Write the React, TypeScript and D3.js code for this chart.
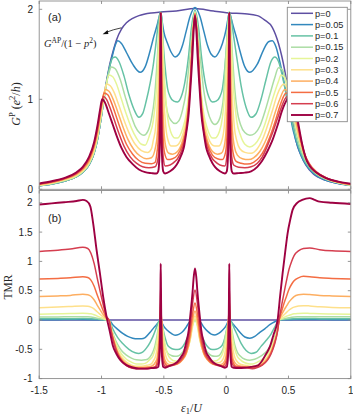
import React from 'react';
import * as d3 from 'd3';

type Pt = [number, number];

const P_LABELS = ['p=0', 'p=0.05', 'p=0.1', 'p=0.15', 'p=0.2', 'p=0.3', 'p=0.4', 'p=0.5', 'p=0.6', 'p=0.7'];
const COLORS = ['#5e4fa2', '#3288bd', '#66c2a5', '#abdda4', '#e6f598', '#fee08b', '#fdae61', '#f46d43', '#d53e4f', '#9e0142'];
const X_TICKS = [-1.5, -1, -0.5, 0, 0.5, 1];
const X_TICK_LABELS = ['-1.5', '-1', '-0.5', '0', '0.5', '1'];
const TOP_Y_TICKS = [0, 1, 2];
const TOP_Y_TICK_LABELS = ['0', '1', '2'];
const BOT_Y_TICKS = [-1, -0.5, 0, 0.5, 1, 1.5, 2];
const BOT_Y_TICK_LABELS = ['-1', '-0.5', '0', '0.5', '1', '1.5', '2'];

// ---- Panel (a): G^P (e^2/h) vs eps1/U ----
const G_P0: Pt[] = [[-1.5,0.04],[-1.4,0.06],[-1.3,0.09],[-1.2,0.14],[-1.15,0.19],[-1.1,0.27],[-1.06,0.4],[-1.03,0.57],[-1.0,0.82],[-0.97,1.12],[-0.94,1.35],[-0.91,1.52],[-0.88,1.66],[-0.84,1.78],[-0.8,1.85],[-0.75,1.9],[-0.7,1.93],[-0.6,1.96],[-0.525,1.97],[-0.4,1.98],[-0.25,2.01],[-0.1,1.98],[0.025,1.96],[0.15,1.95],[0.25,1.93],[0.31,1.88],[0.37,1.8],[0.42,1.62],[0.47,1.32],[0.52,0.88],[0.56,0.54],[0.6,0.38],[0.64,0.27],[0.7,0.17],[0.8,0.1],[0.9,0.065],[1.0,0.045]];
const G_P005: Pt[] = [[-1.5,0.04],[-1.4,0.06],[-1.3,0.09],[-1.2,0.14],[-1.15,0.19],[-1.1,0.27],[-1.06,0.4],[-1.03,0.57],[-1.0,0.82],[-0.97,1.1],[-0.94,1.33],[-0.91,1.5],[-0.89,1.6],[-0.87,1.65],[-0.84,1.62],[-0.8,1.52],[-0.75,1.39],[-0.69,1.3],[-0.65,1.36],[-0.61,1.54],[-0.58,1.7],[-0.555,1.82],[-0.54,1.9],[-0.525,1.97],[-0.515,1.88],[-0.5,1.75],[-0.47,1.62],[-0.44,1.52],[-0.41,1.47],[-0.38,1.5],[-0.35,1.6],[-0.32,1.76],[-0.29,1.92],[-0.25,2.02],[-0.21,1.92],[-0.18,1.76],[-0.15,1.6],[-0.12,1.5],[-0.09,1.47],[-0.06,1.52],[-0.03,1.62],[0.0,1.78],[0.015,1.9],[0.025,1.96],[0.04,1.9],[0.055,1.82],[0.08,1.7],[0.11,1.54],[0.15,1.36],[0.19,1.3],[0.25,1.39],[0.3,1.55],[0.34,1.64],[0.37,1.65],[0.4,1.58],[0.43,1.42],[0.46,1.22],[0.5,0.92],[0.54,0.64],[0.58,0.45],[0.62,0.32],[0.66,0.24],[0.7,0.18],[0.8,0.1],[0.9,0.065],[1.0,0.042]];
const G_P01: Pt[] = [[-1.5,0.04],[-1.4,0.06],[-1.3,0.09],[-1.2,0.14],[-1.15,0.19],[-1.1,0.27],[-1.06,0.4],[-1.03,0.57],[-1.0,0.82],[-0.97,1.1],[-0.94,1.33],[-0.91,1.46],[-0.89,1.47],[-0.86,1.42],[-0.82,1.26],[-0.78,1.05],[-0.74,0.89],[-0.7,0.8],[-0.67,0.84],[-0.64,0.99],[-0.61,1.18],[-0.587,1.36],[-0.56,1.66],[-0.54,1.9],[-0.525,1.97],[-0.515,1.87],[-0.505,1.62],[-0.49,1.36],[-0.47,1.12],[-0.45,1.03],[-0.42,0.98],[-0.39,0.97],[-0.36,1.03],[-0.33,1.2],[-0.3,1.5],[-0.28,1.78],[-0.25,1.99],[-0.22,1.78],[-0.2,1.5],[-0.17,1.2],[-0.14,1.03],[-0.11,0.97],[-0.08,0.98],[-0.05,1.03],[-0.03,1.12],[-0.01,1.36],[0.005,1.62],[0.015,1.87],[0.025,1.97],[0.04,1.9],[0.06,1.7],[0.09,1.42],[0.12,1.15],[0.16,0.91],[0.2,0.8],[0.24,0.84],[0.28,1.0],[0.32,1.22],[0.36,1.42],[0.39,1.47],[0.42,1.42],[0.46,1.2],[0.5,0.92],[0.54,0.68],[0.58,0.48],[0.62,0.34],[0.66,0.25],[0.7,0.19],[0.8,0.11],[0.9,0.07],[1.0,0.045]];
const G_P015: Pt[] = [[-1.5,0.042],[-1.4,0.062],[-1.3,0.095],[-1.2,0.145],[-1.15,0.195],[-1.1,0.28],[-1.06,0.41],[-1.03,0.58],[-1.0,0.83],[-0.97,1.1],[-0.94,1.3],[-0.92,1.36],[-0.89,1.34],[-0.85,1.22],[-0.81,1.03],[-0.77,0.85],[-0.73,0.7],[-0.69,0.62],[-0.66,0.6],[-0.63,0.64],[-0.6,0.78],[-0.575,1.02],[-0.555,1.4],[-0.54,1.75],[-0.525,1.97],[-0.515,1.82],[-0.505,1.45],[-0.49,1.05],[-0.47,0.85],[-0.44,0.76],[-0.41,0.73],[-0.38,0.76],[-0.35,0.88],[-0.32,1.1],[-0.29,1.5],[-0.27,1.8],[-0.25,1.97],[-0.23,1.8],[-0.21,1.5],[-0.18,1.1],[-0.15,0.88],[-0.12,0.76],[-0.09,0.72],[-0.06,0.76],[-0.04,0.85],[-0.02,1.05],[-0.005,1.45],[0.015,1.82],[0.025,1.97],[0.037,1.8],[0.05,1.5],[0.07,1.1],[0.09,0.86],[0.115,0.72],[0.15,0.63],[0.19,0.6],[0.23,0.62],[0.27,0.7],[0.31,0.86],[0.35,1.05],[0.39,1.24],[0.42,1.35],[0.45,1.33],[0.48,1.2],[0.51,0.98],[0.55,0.7],[0.59,0.48],[0.63,0.34],[0.67,0.25],[0.72,0.18],[0.8,0.115],[0.9,0.072],[1.0,0.047]];
const G_P02: Pt[] = [[-1.5,0.045],[-1.4,0.066],[-1.3,0.1],[-1.2,0.15],[-1.15,0.2],[-1.1,0.29],[-1.06,0.42],[-1.03,0.6],[-1.0,0.85],[-0.97,1.1],[-0.94,1.27],[-0.91,1.25],[-0.88,1.17],[-0.84,1.0],[-0.8,0.83],[-0.76,0.68],[-0.72,0.57],[-0.68,0.5],[-0.65,0.49],[-0.615,0.6],[-0.585,0.76],[-0.555,1.21],[-0.54,1.67],[-0.525,1.96],[-0.51,1.67],[-0.495,1.21],[-0.47,0.8],[-0.445,0.64],[-0.41,0.57],[-0.39,0.57],[-0.35,0.67],[-0.32,0.84],[-0.29,1.24],[-0.27,1.69],[-0.25,1.97],[-0.23,1.69],[-0.21,1.24],[-0.18,0.84],[-0.15,0.67],[-0.11,0.57],[-0.09,0.57],[-0.055,0.64],[-0.03,0.8],[-0.005,1.21],[0.01,1.67],[0.025,1.96],[0.04,1.67],[0.055,1.21],[0.085,0.76],[0.115,0.6],[0.15,0.5],[0.19,0.47],[0.23,0.5],[0.27,0.58],[0.31,0.72],[0.35,0.9],[0.39,1.08],[0.42,1.2],[0.44,1.27],[0.47,1.24],[0.5,1.1],[0.53,0.9],[0.56,0.69],[0.6,0.48],[0.64,0.33],[0.68,0.24],[0.74,0.165],[0.82,0.11],[0.9,0.072],[1.0,0.048]];
const G_P03: Pt[] = [[-1.5,0.048],[-1.4,0.07],[-1.3,0.105],[-1.2,0.16],[-1.15,0.21],[-1.1,0.3],[-1.06,0.44],[-1.03,0.62],[-1.0,0.88],[-0.98,1.05],[-0.96,1.17],[-0.93,1.15],[-0.9,1.08],[-0.86,0.93],[-0.82,0.77],[-0.78,0.63],[-0.73,0.5],[-0.68,0.43],[-0.63,0.41],[-0.6,0.45],[-0.585,0.54],[-0.565,0.7],[-0.545,1.17],[-0.535,1.64],[-0.525,1.96],[-0.515,1.64],[-0.505,1.17],[-0.485,0.7],[-0.465,0.54],[-0.44,0.48],[-0.41,0.48],[-0.39,0.49],[-0.35,0.6],[-0.32,0.78],[-0.29,1.19],[-0.27,1.67],[-0.25,1.96],[-0.23,1.67],[-0.21,1.19],[-0.18,0.78],[-0.15,0.6],[-0.11,0.49],[-0.09,0.48],[-0.06,0.48],[-0.035,0.54],[-0.015,0.7],[0.005,1.17],[0.015,1.64],[0.025,1.96],[0.035,1.64],[0.045,1.17],[0.065,0.7],[0.085,0.54],[0.11,0.45],[0.15,0.41],[0.2,0.4],[0.25,0.45],[0.29,0.55],[0.33,0.7],[0.37,0.87],[0.41,1.05],[0.44,1.14],[0.46,1.17],[0.49,1.12],[0.52,0.98],[0.55,0.79],[0.58,0.6],[0.61,0.45],[0.65,0.32],[0.7,0.21],[0.8,0.12],[0.9,0.075],[1.0,0.05]];
const G_P04: Pt[] = [[-1.5,0.052],[-1.4,0.075],[-1.3,0.11],[-1.2,0.165],[-1.15,0.22],[-1.1,0.31],[-1.06,0.46],[-1.03,0.64],[-1.0,0.92],[-0.97,1.11],[-0.94,1.09],[-0.91,1.01],[-0.87,0.86],[-0.83,0.7],[-0.79,0.56],[-0.74,0.44],[-0.69,0.37],[-0.64,0.34],[-0.6,0.35],[-0.565,0.48],[-0.551,0.65],[-0.538,1.14],[-0.5315,1.63],[-0.525,1.96],[-0.5185,1.63],[-0.512,1.14],[-0.499,0.65],[-0.485,0.48],[-0.46,0.4],[-0.43,0.39],[-0.39,0.42],[-0.35,0.54],[-0.32,0.72],[-0.29,1.15],[-0.27,1.65],[-0.25,1.95],[-0.23,1.65],[-0.21,1.15],[-0.18,0.72],[-0.15,0.54],[-0.11,0.42],[-0.07,0.39],[-0.04,0.4],[-0.015,0.48],[-0.001,0.65],[0.012,1.14],[0.0185,1.63],[0.025,1.96],[0.0315,1.63],[0.038,1.14],[0.051,0.65],[0.065,0.48],[0.09,0.38],[0.13,0.34],[0.18,0.33],[0.22,0.35],[0.27,0.42],[0.31,0.52],[0.35,0.66],[0.39,0.84],[0.43,1.0],[0.47,1.11],[0.5,1.07],[0.53,0.94],[0.56,0.75],[0.59,0.56],[0.62,0.41],[0.66,0.29],[0.71,0.2],[0.8,0.125],[0.9,0.078],[1.0,0.052]];
const G_P05: Pt[] = [[-1.5,0.056],[-1.4,0.08],[-1.3,0.115],[-1.2,0.175],[-1.15,0.23],[-1.1,0.33],[-1.06,0.48],[-1.03,0.67],[-1.0,0.93],[-0.98,1.07],[-0.95,1.05],[-0.92,0.96],[-0.88,0.8],[-0.84,0.64],[-0.8,0.5],[-0.75,0.39],[-0.7,0.32],[-0.65,0.29],[-0.6,0.285],[-0.57,0.3],[-0.555,0.41],[-0.545,0.56],[-0.535,1.03],[-0.53,1.56],[-0.525,1.96],[-0.52,1.56],[-0.515,1.03],[-0.505,0.56],[-0.495,0.41],[-0.47,0.33],[-0.43,0.34],[-0.39,0.38],[-0.35,0.5],[-0.32,0.68],[-0.29,1.13],[-0.27,1.64],[-0.25,1.95],[-0.23,1.64],[-0.21,1.13],[-0.18,0.68],[-0.15,0.5],[-0.11,0.38],[-0.07,0.34],[-0.03,0.33],[-0.005,0.41],[0.005,0.56],[0.015,1.03],[0.02,1.56],[0.025,1.96],[0.03,1.56],[0.035,1.03],[0.045,0.56],[0.055,0.41],[0.08,0.31],[0.12,0.29],[0.17,0.28],[0.22,0.3],[0.27,0.36],[0.31,0.45],[0.35,0.58],[0.39,0.74],[0.43,0.92],[0.46,1.03],[0.48,1.07],[0.51,1.04],[0.54,0.93],[0.57,0.74],[0.6,0.54],[0.63,0.39],[0.67,0.28],[0.72,0.2],[0.8,0.13],[0.9,0.082],[1.0,0.055]];
const G_P06: Pt[] = [[-1.5,0.06],[-1.4,0.085],[-1.3,0.12],[-1.2,0.18],[-1.15,0.24],[-1.1,0.345],[-1.06,0.5],[-1.03,0.7],[-1.0,0.95],[-0.985,1.03],[-0.96,1.0],[-0.93,0.9],[-0.9,0.78],[-0.86,0.62],[-0.82,0.48],[-0.77,0.36],[-0.72,0.29],[-0.67,0.25],[-0.62,0.24],[-0.57,0.25],[-0.56,0.27],[-0.545,0.36],[-0.535,0.68],[-0.53,1.2],[-0.5275,1.68],[-0.525,1.96],[-0.5225,1.68],[-0.52,1.2],[-0.515,0.68],[-0.505,0.36],[-0.49,0.26],[-0.45,0.27],[-0.41,0.31],[-0.39,0.34],[-0.35,0.46],[-0.32,0.65],[-0.29,1.1],[-0.27,1.63],[-0.25,1.94],[-0.23,1.63],[-0.21,1.1],[-0.18,0.65],[-0.15,0.46],[-0.11,0.34],[-0.09,0.31],[-0.05,0.27],[-0.01,0.26],[0.005,0.36],[0.015,0.68],[0.02,1.2],[0.0225,1.68],[0.025,1.96],[0.0275,1.68],[0.03,1.2],[0.035,0.68],[0.045,0.36],[0.06,0.27],[0.1,0.245],[0.15,0.24],[0.2,0.25],[0.25,0.29],[0.29,0.36],[0.33,0.48],[0.37,0.62],[0.41,0.78],[0.44,0.9],[0.47,1.0],[0.5,1.04],[0.53,1.0],[0.56,0.85],[0.59,0.62],[0.62,0.44],[0.65,0.32],[0.69,0.23],[0.75,0.165],[0.85,0.1],[1.0,0.058]];
const G_P07: Pt[] = [[-1.5,0.065],[-1.4,0.09],[-1.3,0.125],[-1.2,0.19],[-1.15,0.25],[-1.1,0.36],[-1.06,0.52],[-1.03,0.73],[-1.01,0.9],[-0.995,1.0],[-0.975,0.97],[-0.94,0.84],[-0.91,0.72],[-0.88,0.6],[-0.84,0.46],[-0.8,0.36],[-0.75,0.28],[-0.7,0.22],[-0.65,0.19],[-0.6,0.18],[-0.56,0.175],[-0.545,0.2],[-0.535,0.38],[-0.53,0.85],[-0.5275,1.45],[-0.525,1.96],[-0.5225,1.45],[-0.52,0.85],[-0.515,0.38],[-0.505,0.2],[-0.49,0.175],[-0.45,0.2],[-0.41,0.25],[-0.39,0.29],[-0.36,0.38],[-0.34,0.46],[-0.32,0.63],[-0.3,0.85],[-0.29,1.05],[-0.27,1.5],[-0.26,1.78],[-0.25,1.93],[-0.24,1.78],[-0.23,1.5],[-0.21,1.05],[-0.2,0.85],[-0.18,0.63],[-0.16,0.46],[-0.14,0.38],[-0.11,0.29],[-0.09,0.25],[-0.05,0.2],[-0.01,0.175],[0.005,0.2],[0.015,0.38],[0.02,0.85],[0.0225,1.45],[0.025,1.96],[0.0275,1.45],[0.03,0.85],[0.035,0.38],[0.045,0.2],[0.06,0.175],[0.1,0.18],[0.15,0.185],[0.2,0.2],[0.25,0.25],[0.29,0.32],[0.33,0.42],[0.37,0.54],[0.41,0.7],[0.45,0.88],[0.49,1.0],[0.52,1.04],[0.55,0.95],[0.58,0.72],[0.61,0.5],[0.64,0.34],[0.67,0.26],[0.72,0.19],[0.8,0.125],[0.9,0.085],[1.0,0.062]];

// ---- Panel (b): TMR vs eps1/U ----
const T_P0: Pt[] = [[-1.5,0],[1.0,0]];
const T_P005: Pt[] = [[-1.5,0.005],[-1.35,0.006],[-1.25,0.007],[-1.15,0.008],[-1.06,0.006],[-1.0,0.003],[-0.96,0.001],[-0.94,0],[-0.91,-0.08],[-0.87,-0.16],[-0.83,-0.23],[-0.79,-0.28],[-0.75,-0.31],[-0.71,-0.32],[-0.68,-0.32],[-0.65,-0.3],[-0.61,-0.21],[-0.58,-0.13],[-0.555,-0.07],[-0.54,-0.035],[-0.525,0.0],[-0.515,-0.045],[-0.5,-0.11],[-0.47,-0.18],[-0.44,-0.23],[-0.41,-0.26],[-0.38,-0.245],[-0.35,-0.2],[-0.32,-0.12],[-0.29,-0.025],[-0.25,0.0],[-0.21,-0.025],[-0.18,-0.12],[-0.15,-0.19],[-0.12,-0.24],[-0.09,-0.255],[-0.06,-0.23],[-0.03,-0.175],[0.0,-0.095],[0.015,-0.03],[0.025,0.0],[0.04,-0.03],[0.055,-0.07],[0.08,-0.13],[0.11,-0.21],[0.15,-0.29],[0.19,-0.31],[0.23,-0.28],[0.27,-0.21],[0.31,-0.15],[0.35,-0.08],[0.39,-0.03],[0.425,0],[0.465,0.003],[0.505,0.005],[0.545,0.007],[0.62,0.008],[0.75,0.007],[0.85,0.006],[1.0,0.005]];
const T_P01: Pt[] = [[-1.5,0.02],[-1.35,0.021],[-1.25,0.022],[-1.15,0.025],[-1.085,0.023],[-1.035,0.015],[-0.985,0.005],[-0.94,0],[-0.91,-0.15],[-0.87,-0.3],[-0.83,-0.4],[-0.78,-0.5],[-0.73,-0.56],[-0.7,-0.57],[-0.67,-0.55],[-0.64,-0.48],[-0.61,-0.38],[-0.587,-0.28],[-0.56,-0.13],[-0.54,-0.02],[-0.525,0.01],[-0.515,-0.04],[-0.505,-0.17],[-0.49,-0.3],[-0.47,-0.43],[-0.45,-0.47],[-0.42,-0.5],[-0.39,-0.505],[-0.36,-0.48],[-0.33,-0.39],[-0.3,-0.24],[-0.28,-0.1],[-0.25,0.0],[-0.22,-0.1],[-0.2,-0.24],[-0.17,-0.39],[-0.14,-0.475],[-0.11,-0.505],[-0.08,-0.5],[-0.05,-0.47],[-0.03,-0.425],[-0.01,-0.3],[0.005,-0.165],[0.015,-0.035],[0.025,0.01],[0.04,-0.02],[0.06,-0.12],[0.09,-0.26],[0.12,-0.4],[0.16,-0.52],[0.2,-0.57],[0.24,-0.55],[0.28,-0.45],[0.32,-0.35],[0.36,-0.24],[0.39,-0.12],[0.425,0],[0.465,0.01],[0.505,0.018],[0.545,0.023],[0.62,0.025],[0.75,0.023],[0.85,0.021],[1.0,0.02]];
const T_P015: Pt[] = [[-1.5,0.052],[-1.35,0.053],[-1.25,0.054],[-1.15,0.055],[-1.11,0.054],[-1.085,0.05],[-1.06,0.043],[-1.035,0.032],[-1.01,0.021],[-0.985,0.011],[-0.96,0.003],[-0.94,0],[-0.92,-0.15],[-0.9,-0.28],[-0.87,-0.42],[-0.84,-0.52],[-0.8,-0.6],[-0.76,-0.65],[-0.72,-0.68],[-0.68,-0.685],[-0.65,-0.68],[-0.63,-0.67],[-0.6,-0.595],[-0.575,-0.47],[-0.555,-0.27],[-0.54,-0.09],[-0.525,0.023],[-0.515,-0.055],[-0.505,-0.25],[-0.49,-0.455],[-0.47,-0.56],[-0.44,-0.605],[-0.41,-0.62],[-0.38,-0.61],[-0.35,-0.55],[-0.32,-0.435],[-0.29,-0.235],[-0.27,-0.08],[-0.25,0.0],[-0.23,-0.08],[-0.21,-0.235],[-0.18,-0.435],[-0.15,-0.55],[-0.12,-0.605],[-0.09,-0.62],[-0.06,-0.61],[-0.04,-0.56],[-0.02,-0.455],[-0.005,-0.25],[0.015,-0.055],[0.025,0.023],[0.037,-0.065],[0.05,-0.22],[0.07,-0.43],[0.09,-0.55],[0.115,-0.62],[0.15,-0.67],[0.19,-0.685],[0.21,-0.68],[0.25,-0.65],[0.29,-0.6],[0.33,-0.52],[0.36,-0.42],[0.39,-0.28],[0.41,-0.15],[0.425,0],[0.445,0.012],[0.465,0.022],[0.485,0.032],[0.505,0.04],[0.525,0.047],[0.545,0.052],[0.58,0.055],[0.62,0.057],[0.67,0.057],[0.75,0.056],[0.85,0.055],[1.0,0.055]];
const T_P02: Pt[] = [[-1.5,0.1],[-1.35,0.105],[-1.25,0.11],[-1.15,0.115],[-1.11,0.113],[-1.085,0.106],[-1.06,0.09],[-1.035,0.067],[-1.01,0.045],[-0.985,0.023],[-0.96,0.006],[-0.94,0],[-0.92,-0.17],[-0.9,-0.31],[-0.87,-0.47],[-0.84,-0.58],[-0.8,-0.67],[-0.76,-0.72],[-0.72,-0.75],[-0.68,-0.75],[-0.65,-0.74],[-0.615,-0.68],[-0.585,-0.6],[-0.555,-0.36],[-0.54,-0.117],[-0.525,0.036],[-0.51,-0.117],[-0.495,-0.36],[-0.47,-0.58],[-0.445,-0.66],[-0.41,-0.7],[-0.39,-0.7],[-0.35,-0.65],[-0.32,-0.56],[-0.29,-0.355],[-0.27,-0.12],[-0.25,0.02],[-0.23,-0.12],[-0.21,-0.355],[-0.18,-0.56],[-0.15,-0.65],[-0.11,-0.7],[-0.09,-0.7],[-0.055,-0.66],[-0.03,-0.58],[-0.005,-0.36],[0.01,-0.115],[0.025,0.04],[0.04,-0.115],[0.055,-0.36],[0.085,-0.6],[0.115,-0.68],[0.15,-0.73],[0.19,-0.75],[0.21,-0.75],[0.25,-0.72],[0.29,-0.67],[0.33,-0.58],[0.36,-0.47],[0.39,-0.31],[0.41,-0.17],[0.425,0],[0.445,0.025],[0.465,0.045],[0.485,0.065],[0.505,0.08],[0.525,0.095],[0.545,0.105],[0.58,0.112],[0.62,0.115],[0.67,0.112],[0.75,0.106],[0.85,0.102],[1.0,0.1]];
const T_P03: Pt[] = [[-1.5,0.21],[-1.35,0.22],[-1.25,0.23],[-1.15,0.24],[-1.11,0.235],[-1.085,0.22],[-1.06,0.19],[-1.035,0.14],[-1.01,0.094],[-0.985,0.048],[-0.96,0.012],[-0.94,0],[-0.92,-0.19],[-0.9,-0.34],[-0.87,-0.52],[-0.84,-0.63],[-0.8,-0.72],[-0.76,-0.77],[-0.72,-0.79],[-0.68,-0.79],[-0.63,-0.77],[-0.6,-0.75],[-0.585,-0.7],[-0.565,-0.61],[-0.545,-0.35],[-0.535,-0.085],[-0.525,0.093],[-0.515,-0.085],[-0.505,-0.35],[-0.485,-0.61],[-0.465,-0.7],[-0.44,-0.73],[-0.41,-0.735],[-0.39,-0.73],[-0.35,-0.67],[-0.32,-0.57],[-0.29,-0.345],[-0.27,-0.085],[-0.25,0.07],[-0.23,-0.085],[-0.21,-0.345],[-0.18,-0.57],[-0.15,-0.67],[-0.11,-0.73],[-0.09,-0.735],[-0.06,-0.73],[-0.035,-0.7],[-0.015,-0.61],[0.005,-0.35],[0.015,-0.085],[0.025,0.095],[0.035,-0.085],[0.045,-0.35],[0.065,-0.61],[0.085,-0.7],[0.11,-0.75],[0.15,-0.77],[0.21,-0.79],[0.25,-0.77],[0.29,-0.72],[0.33,-0.63],[0.36,-0.52],[0.39,-0.34],[0.41,-0.19],[0.425,0],[0.445,0.05],[0.465,0.09],[0.485,0.13],[0.505,0.17],[0.525,0.2],[0.545,0.22],[0.58,0.24],[0.62,0.245],[0.67,0.24],[0.75,0.225],[0.85,0.215],[1.0,0.21]];
const T_P04: Pt[] = [[-1.5,0.4],[-1.35,0.41],[-1.25,0.42],[-1.15,0.44],[-1.11,0.43],[-1.085,0.405],[-1.06,0.345],[-1.035,0.255],[-1.01,0.17],[-0.985,0.088],[-0.96,0.022],[-0.94,0],[-0.92,-0.2],[-0.9,-0.36],[-0.87,-0.55],[-0.84,-0.66],[-0.8,-0.75],[-0.76,-0.79],[-0.72,-0.81],[-0.68,-0.81],[-0.64,-0.8],[-0.6,-0.79],[-0.565,-0.71],[-0.551,-0.61],[-0.538,-0.31],[-0.5315,-0.015],[-0.525,0.184],[-0.5185,-0.015],[-0.512,-0.31],[-0.499,-0.61],[-0.485,-0.71],[-0.46,-0.76],[-0.43,-0.765],[-0.39,-0.75],[-0.35,-0.68],[-0.32,-0.57],[-0.29,-0.315],[-0.27,-0.02],[-0.25,0.155],[-0.23,-0.02],[-0.21,-0.315],[-0.18,-0.57],[-0.15,-0.68],[-0.11,-0.75],[-0.07,-0.765],[-0.04,-0.76],[-0.015,-0.71],[-0.001,-0.61],[0.012,-0.31],[0.0185,-0.015],[0.025,0.19],[0.0315,-0.015],[0.038,-0.31],[0.051,-0.61],[0.065,-0.71],[0.09,-0.77],[0.13,-0.79],[0.18,-0.8],[0.21,-0.81],[0.25,-0.79],[0.29,-0.75],[0.33,-0.66],[0.36,-0.55],[0.39,-0.36],[0.41,-0.2],[0.425,0],[0.445,0.09],[0.465,0.17],[0.485,0.24],[0.505,0.31],[0.525,0.36],[0.545,0.4],[0.58,0.43],[0.62,0.44],[0.67,0.435],[0.75,0.42],[0.85,0.41],[1.0,0.4]];
const T_P05: Pt[] = [[-1.5,0.7],[-1.35,0.71],[-1.25,0.72],[-1.15,0.74],[-1.11,0.725],[-1.085,0.68],[-1.06,0.58],[-1.035,0.43],[-1.01,0.29],[-0.985,0.15],[-0.96,0.037],[-0.94,0],[-0.92,-0.21],[-0.9,-0.38],[-0.87,-0.57],[-0.84,-0.68],[-0.8,-0.77],[-0.76,-0.81],[-0.72,-0.82],[-0.68,-0.82],[-0.64,-0.815],[-0.6,-0.81],[-0.57,-0.8],[-0.555,-0.72],[-0.545,-0.62],[-0.535,-0.3],[-0.53,0.055],[-0.525,0.326],[-0.52,0.055],[-0.515,-0.3],[-0.505,-0.62],[-0.495,-0.72],[-0.47,-0.78],[-0.43,-0.77],[-0.39,-0.745],[-0.35,-0.665],[-0.32,-0.545],[-0.29,-0.25],[-0.27,0.09],[-0.25,0.29],[-0.23,0.09],[-0.21,-0.25],[-0.18,-0.545],[-0.15,-0.665],[-0.11,-0.745],[-0.07,-0.77],[-0.03,-0.78],[-0.005,-0.72],[0.005,-0.62],[0.015,-0.3],[0.02,0.055],[0.025,0.33],[0.03,0.055],[0.035,-0.3],[0.045,-0.62],[0.055,-0.72],[0.08,-0.79],[0.12,-0.8],[0.17,-0.81],[0.21,-0.82],[0.25,-0.8],[0.29,-0.76],[0.33,-0.68],[0.36,-0.56],[0.39,-0.38],[0.41,-0.21],[0.425,0],[0.445,0.15],[0.465,0.29],[0.485,0.41],[0.505,0.53],[0.525,0.61],[0.545,0.67],[0.58,0.72],[0.62,0.745],[0.67,0.74],[0.75,0.72],[0.85,0.71],[1.0,0.7]];
const T_P06: Pt[] = [[-1.5,1.17],[-1.35,1.19],[-1.25,1.21],[-1.15,1.24],[-1.11,1.22],[-1.085,1.14],[-1.06,0.97],[-1.035,0.72],[-1.01,0.48],[-0.985,0.25],[-0.96,0.06],[-0.94,0],[-0.92,-0.22],[-0.9,-0.4],[-0.87,-0.59],[-0.84,-0.7],[-0.8,-0.78],[-0.76,-0.82],[-0.72,-0.83],[-0.68,-0.83],[-0.64,-0.83],[-0.6,-0.82],[-0.56,-0.79],[-0.545,-0.715],[-0.535,-0.46],[-0.53,-0.05],[-0.5275,0.33],[-0.525,0.555],[-0.5225,0.33],[-0.52,-0.05],[-0.515,-0.46],[-0.505,-0.715],[-0.49,-0.79],[-0.45,-0.786],[-0.41,-0.755],[-0.39,-0.73],[-0.35,-0.64],[-0.32,-0.49],[-0.29,-0.14],[-0.27,0.27],[-0.25,0.51],[-0.23,0.27],[-0.21,-0.14],[-0.18,-0.49],[-0.15,-0.64],[-0.11,-0.73],[-0.09,-0.755],[-0.05,-0.786],[-0.01,-0.79],[0.005,-0.715],[0.015,-0.46],[0.02,-0.05],[0.0225,0.33],[0.025,0.555],[0.0275,0.33],[0.03,-0.05],[0.035,-0.46],[0.045,-0.715],[0.06,-0.786],[0.1,-0.805],[0.15,-0.81],[0.21,-0.83],[0.25,-0.81],[0.29,-0.77],[0.33,-0.69],[0.36,-0.58],[0.39,-0.4],[0.41,-0.22],[0.425,0],[0.445,0.25],[0.465,0.47],[0.485,0.68],[0.505,0.87],[0.525,1.0],[0.545,1.1],[0.58,1.18],[0.62,1.22],[0.67,1.23],[0.75,1.2],[0.85,1.18],[1.0,1.17]];
const T_P07: Pt[] = [[-1.5,1.97],[-1.4,1.99],[-1.3,2.01],[-1.2,2.03],[-1.15,2.05],[-1.12,2.03],[-1.09,1.94],[-1.067,1.65],[-1.04,1.2],[-1.013,0.8],[-0.987,0.4],[-0.96,0.06],[-0.93,-0.23],[-0.91,-0.43],[-0.88,-0.58],[-0.85,-0.68],[-0.8,-0.77],[-0.75,-0.81],[-0.7,-0.83],[-0.64,-0.83],[-0.6,-0.82],[-0.56,-0.815],[-0.545,-0.8],[-0.535,-0.62],[-0.53,-0.16],[-0.5275,0.44],[-0.525,0.96],[-0.5225,0.44],[-0.52,-0.16],[-0.515,-0.62],[-0.505,-0.8],[-0.49,-0.815],[-0.45,-0.78],[-0.41,-0.743],[-0.39,-0.71],[-0.36,-0.625],[-0.34,-0.55],[-0.32,-0.38],[-0.3,-0.167],[-0.29,0.027],[-0.27,0.466],[-0.26,0.74],[-0.25,0.88],[-0.24,0.74],[-0.23,0.466],[-0.21,0.027],[-0.2,-0.167],[-0.18,-0.38],[-0.16,-0.55],[-0.14,-0.625],[-0.11,-0.71],[-0.09,-0.743],[-0.05,-0.78],[-0.01,-0.815],[0.005,-0.8],[0.015,-0.62],[0.02,-0.16],[0.0225,0.44],[0.025,0.96],[0.0275,0.44],[0.03,-0.16],[0.035,-0.62],[0.045,-0.8],[0.06,-0.815],[0.1,-0.82],[0.15,-0.814],[0.2,-0.8],[0.25,-0.78],[0.29,-0.69],[0.32,-0.58],[0.35,-0.46],[0.38,-0.25],[0.413,0.0],[0.433,0.41],[0.453,0.8],[0.473,1.15],[0.493,1.48],[0.513,1.7],[0.533,1.88],[0.57,2.0],[0.61,2.05],[0.67,2.08],[0.71,2.05],[0.75,2.02],[0.85,2.0],[1.0,1.98]];

const G_SERIES: Pt[][] = [G_P0, G_P005, G_P01, G_P015, G_P02, G_P03, G_P04, G_P05, G_P06, G_P07];
const T_SERIES: Pt[][] = [T_P0, T_P005, T_P01, T_P015, T_P02, T_P03, T_P04, T_P05, T_P06, T_P07];

const AXIS_COLOR = '#8a8a8a';
const TEXT_COLOR = '#262626';
const SANS = '"Liberation Sans", Arial, Helvetica, sans-serif';
const SERIF = '"Liberation Serif", "Times New Roman", serif';

export default function App() {
  const left = 39.2, right = 350.8;
  const topA = 1, botA = 189.3;
  const topB = 190.5, botB = 378.6;

  const x = d3.scaleLinear().domain([-1.5, 1]).range([left, right]);
  const yA = d3.scaleLinear().domain([0, 2]).range([189.3, 9.3]);
  const yB = d3.scaleLinear().domain([-1, 2]).range([378.6, 202.8]);

  const lineA = d3.line<Pt>().x(d => x(d[0])).y(d => yA(d[1])).curve(d3.curveMonotoneX);
  const lineB = d3.line<Pt>().x(d => x(d[0])).y(d => yB(d[1])).curve(d3.curveMonotoneX);

  const tickLen = 3;

  const frame = (y0: number, y1: number, yScale: d3.ScaleLinear<number, number>, yTicks: number[]) => (
    <g>
      <rect x={left} y={y0} width={right - left} height={y1 - y0} fill="none" stroke={AXIS_COLOR} strokeWidth={0.9} />
      {X_TICKS.map((t, i) => (
        <g key={'xt' + i}>
          <line x1={x(t)} x2={x(t)} y1={y1} y2={y1 - tickLen} stroke={AXIS_COLOR} strokeWidth={0.9} />
          <line x1={x(t)} x2={x(t)} y1={y0} y2={y0 + tickLen} stroke={AXIS_COLOR} strokeWidth={0.9} />
        </g>
      ))}
      {yTicks.map((t, i) => (
        <g key={'yt' + i}>
          <line x1={left} x2={left + tickLen} y1={yScale(t)} y2={yScale(t)} stroke={AXIS_COLOR} strokeWidth={0.9} />
          <line x1={right} x2={right - tickLen} y1={yScale(t)} y2={yScale(t)} stroke={AXIS_COLOR} strokeWidth={0.9} />
        </g>
      ))}
    </g>
  );

  const legendX = 287.3, legendY = 7.3, legendW = 60, legendH = 114.4;
  const legendRow = 11.3;

  return (
    <svg width={353} height={417} style={{ position: 'absolute', left: 0, top: 0, background: '#fff' }}>
      <defs>
        <clipPath id="clipA"><rect x={left} y={topA} width={right - left} height={botA - topA} /></clipPath>
        <clipPath id="clipB"><rect x={left} y={topB} width={right - left} height={botB - topB} /></clipPath>
      </defs>
      <rect x={0} y={0} width={353} height={417} fill="#fff" />

      {/* Panel (a) */}
      <g clipPath="url(#clipA)">
        {G_SERIES.map((s, i) => (
          <path key={'ga' + i} d={lineA(s) || ''} fill="none" stroke={COLORS[i]} strokeWidth={i === 9 ? 1.9 : 1.5} strokeLinejoin="round" />
        ))}
      </g>
      {frame(topA, botA, yA, TOP_Y_TICKS)}
      {TOP_Y_TICKS.map((t, i) => (
        <text key={'yla' + i} x={33} y={yA(t)} dy="0.35em" textAnchor="end" fontFamily={SANS} fontSize={10} fill={TEXT_COLOR}>{TOP_Y_TICK_LABELS[i]}</text>
      ))}

      {/* Panel (b) */}
      <g clipPath="url(#clipB)">
        {T_SERIES.map((s, i) => (
          <path key={'tb' + i} d={lineB(s) || ''} fill="none" stroke={COLORS[i]} strokeWidth={i === 9 ? 1.9 : 1.5} strokeLinejoin="round" />
        ))}
      </g>
      {frame(topB, botB, yB, BOT_Y_TICKS)}
      {BOT_Y_TICKS.map((t, i) => (
        <text key={'ylb' + i} x={32.5} y={yB(t)} dy="0.35em" textAnchor="end" fontFamily={SANS} fontSize={10} fill={TEXT_COLOR}>{BOT_Y_TICK_LABELS[i]}</text>
      ))}
      {X_TICKS.map((t, i) => (
        <text key={'xl' + i} x={x(t)} y={393.8} textAnchor="middle" fontFamily={SANS} fontSize={10} fill={TEXT_COLOR}>{X_TICK_LABELS[i]}</text>
      ))}

      {/* Panel labels */}
      <text x={48} y={21} fontFamily={SANS} fontSize={11} fill={TEXT_COLOR}>(a)</text>
      <text x={48} y={222} fontFamily={SANS} fontSize={11} fill={TEXT_COLOR}>(b)</text>

      {/* Axis titles */}
      <text transform="translate(19.5,104) rotate(-90)" textAnchor="middle" fontFamily={SERIF} fontSize={12} fill={TEXT_COLOR}>
        <tspan fontStyle="italic">G</tspan>
        <tspan dy={-4.5} fontSize={8.5}>P</tspan>
        <tspan dy={4.5}>{' ('}</tspan>
        <tspan fontStyle="italic">e</tspan>
        <tspan dy={-4.5} fontSize={8.5}>2</tspan>
        <tspan dy={4.5}>/</tspan>
        <tspan fontStyle="italic">h</tspan>
        <tspan>)</tspan>
      </text>
      <text transform="translate(11.5,287) rotate(-90)" textAnchor="middle" fontFamily={SERIF} fontSize={11.5} fill={TEXT_COLOR}>TMR</text>
      <text x={191.5} y={411.5} textAnchor="middle" fontFamily={SERIF} fontSize={12} fill={TEXT_COLOR}>
        <tspan fontStyle="italic">ε</tspan>
        <tspan dy={2.5} fontSize={8.5}>1</tspan>
        <tspan dy={-2.5}>/</tspan>
        <tspan fontStyle="italic">U</tspan>
      </text>

      {/* Annotation */}
      <text x={44} y={47} fontFamily={SERIF} fontSize={10.5} fill={TEXT_COLOR}>
        <tspan fontStyle="italic">G</tspan>
        <tspan dy={-4} fontSize={7.5}>AP</tspan>
        <tspan dy={4}>/(1 − </tspan>
        <tspan fontStyle="italic">p</tspan>
        <tspan dy={-4} fontSize={7.5}>2</tspan>
        <tspan dy={4}>)</tspan>
      </text>
      <path d="M121.5,27.8 Q113,29.5 106,32.4" fill="none" stroke="#111" strokeWidth={0.8} />
      <path d="M102.6,34.2 L107.6,30.0 L108.4,34.0 Z" fill="#111" />

      {/* Legend */}
      <rect x={legendX} y={legendY} width={legendW} height={legendH} fill="#fff" stroke={AXIS_COLOR} strokeWidth={0.9} />
      {P_LABELS.map((lab, i) => {
        const yy = legendY + 6 + i * legendRow;
        return (
          <g key={'lg' + i}>
            <line x1={291} x2={313} y1={yy} y2={yy} stroke={COLORS[i]} strokeWidth={i === 9 ? 1.9 : 1.5} />
            <text x={315} y={yy} dy="0.35em" fontFamily={SANS} fontSize={9.2} fill={TEXT_COLOR}>{lab}</text>
          </g>
        );
      })}
    </svg>
  );
}
